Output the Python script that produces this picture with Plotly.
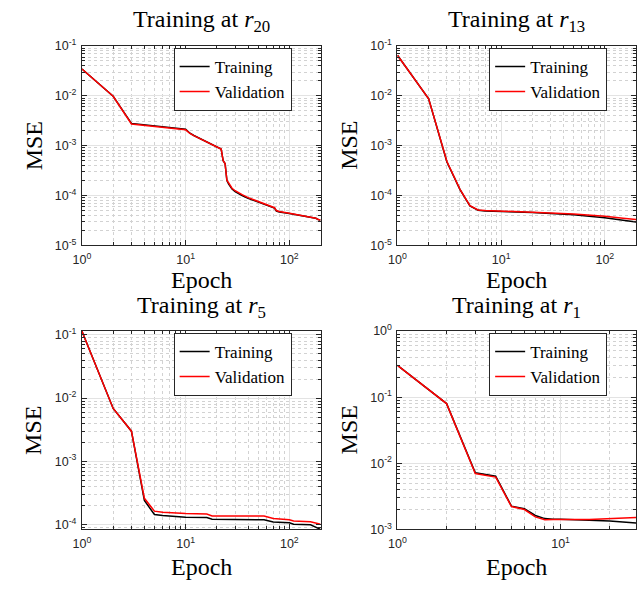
import numpy as np
import plotly.graph_objects as go

# ---------------- data ----------------
ep_r20 = [1, 2, 3, 10, 11, 12, 22, 23, 24, 25, 26, 28, 30, 32, 35, 40, 50, 60, 70, 72, 75, 80, 100, 130, 160, 180, 190, 200]
tr_r20 = [0.0346, 0.0098, 0.0028, 0.00214, 0.00178, 0.00160, 0.00086, 0.00050, 0.00044, 0.00020, 0.00017,
          0.000135, 0.000120, 0.000110, 0.000100, 0.000088, 0.000074, 0.000065, 0.000058, 0.000056, 0.000049,
          0.000047, 0.0000435, 0.0000395, 0.0000365, 0.0000350, 0.0000330, 0.0000320]
va_r20 = [0.0346, 0.0098, 0.00272, 0.00208, 0.00176, 0.00159, 0.00086, 0.00050, 0.00044, 0.00020, 0.00018,
          0.000140, 0.000125, 0.000114, 0.000104, 0.000091, 0.000076, 0.000066, 0.000059, 0.000057, 0.000050,
          0.000048, 0.0000440, 0.0000400, 0.0000368, 0.0000352, 0.0000332, 0.0000322]

ep_r13 = [1, 2, 3, 4, 5, 6, 7, 10, 20, 50, 100, 150, 200]
tr_r13 = [0.065, 0.0087, 0.00047, 0.000133, 0.000062, 0.0000505, 0.0000490, 0.0000480, 0.0000455,
          0.0000410, 0.0000360, 0.0000320, 0.0000295]
va_r13 = [0.065, 0.0087, 0.00048, 0.000135, 0.000063, 0.0000515, 0.0000500, 0.0000490, 0.0000465,
          0.0000425, 0.0000385, 0.0000350, 0.0000330]

ep_r5 = [1, 2, 3, 4, 5, 6, 10, 16, 18, 57, 70, 100, 110, 160, 200]
tr_r5 = [0.114, 0.00686, 0.0030, 0.00024, 0.000144, 0.000139, 0.000131, 0.000129, 0.000121, 0.000119,
         0.000110, 0.000107, 0.000101, 0.000099, 0.000084]
va_r5 = [0.114, 0.00686, 0.0030, 0.00026, 0.000163, 0.000156, 0.000149, 0.000147, 0.000137, 0.000136,
         0.000125, 0.000119, 0.000114, 0.000111, 0.000101]

ep_r1 = [1, 2, 3, 4, 5, 6, 7, 8, 9, 10, 15, 20, 29]
tr_r1 = [0.302, 0.080, 0.0072, 0.0064, 0.00225, 0.00206, 0.00163, 0.00146, 0.00143, 0.00143, 0.00138, 0.00134, 0.00125]
va_r1 = [0.302, 0.080, 0.0070, 0.0062, 0.00222, 0.00200, 0.00155, 0.00140, 0.00141, 0.00142, 0.00142, 0.00145, 0.00152]

titles = ["Training at <i>r</i><sub>20</sub>", "Training at <i>r</i><sub>13</sub>",
          "Training at <i>r</i><sub>5</sub>", "Training at <i>r</i><sub>1</sub>"]
series_names = ["Training", "Validation"]

panels = [
    (ep_r20, tr_r20, va_r20),
    (ep_r13, tr_r13, va_r13),
    (ep_r5, tr_r5, va_r5),
    (ep_r1, tr_r1, va_r1),
]

# y ranges in decades (log10), tick exponents
y_ranges = [(-5, -1), (-5, -1), (-4.078, -0.939), (-3, 0)]
y_ticks = [[-5, -4, -3, -2, -1], [-5, -4, -3, -2, -1], [-4, -3, -2, -1], [-3, -2, -1, 0]]
x_ticks = [[0, 1, 2], [0, 1, 2], [0, 1, 2], [0, 1]]

# ---------------- layout geometry (pixels) ----------------
W, H = 639, 590
boxes = [  # left, right, top, bottom
    (74, 316, 38, 243),
    (394, 636, 38, 243),
    (74, 316, 331, 535),
    (394, 636, 331, 535),
]
epoch_off = [36, 36, 39, 39]
title_off = [26, 26, 25, 25]

SERIF = "Liberation Serif, Times New Roman, serif"
SANS = "Liberation Sans, Arial, sans-serif"
AX = "#262626"
MAJ_GRID = "#e3e3e3"
MIN_GRID = "#d2d2d2"

def px_x(p):
    return p / W

def px_y(p):
    return 1 - p / H

def lab(e):
    return "10<sup>%d</sup>" % e

fig = go.Figure()
annotations = []
layout = {}

for i, (ep, tr, va) in enumerate(panels):
    n = i + 1
    xa = "xaxis" if n == 1 else "xaxis%d" % n
    ya = "yaxis" if n == 1 else "yaxis%d" % n
    xr = "x" if n == 1 else "x%d" % n
    yr = "y" if n == 1 else "y%d" % n
    lg = "legend" if n == 1 else "legend%d" % n
    L, R, T, B = boxes[i]

    fig.add_trace(go.Scatter(x=ep, y=tr, mode="lines", name=series_names[0],
                             line=dict(color="black", width=1.5), xaxis=xr, yaxis=yr, legend=lg))
    fig.add_trace(go.Scatter(x=ep, y=va, mode="lines", name=series_names[1],
                             line=dict(color="#ff0000", width=1.5), xaxis=xr, yaxis=yr, legend=lg))

    xmax = np.log10(max(ep))
    xminor = [m * 10 ** e for e in range(0, 3) for m in range(2, 10)]
    yminor = [m * 10.0 ** e for e in range(-6, 1) for m in range(2, 10)]

    common = dict(type="log", showline=True, linecolor=AX, linewidth=1, mirror="ticks",
                  ticks="inside", ticklen=5, tickcolor=AX, tickwidth=1,
                  showgrid=True, gridcolor=MAJ_GRID, gridwidth=1, zeroline=False,
                  tickfont=dict(family=SANS, size=12.5, color=AX),
                  tickmode="array")
    layout[xa] = dict(common, domain=[px_x(L), px_x(R)], anchor=yr,
                      range=[0, xmax], ticklabelstandoff=3,
                      tickvals=[10 ** e for e in x_ticks[i]], ticktext=[lab(e) for e in x_ticks[i]],
                      minor=dict(tickmode="array", tickvals=xminor, ticks="inside", ticklen=3,
                                 tickcolor=AX, showgrid=True, gridcolor=MIN_GRID, griddash="dot",
                                 gridwidth=1))
    layout[ya] = dict(common, domain=[px_y(B), px_y(T)], anchor=xr,
                      range=list(y_ranges[i]), ticklabelstandoff=2,
                      tickvals=[10.0 ** e for e in y_ticks[i]], ticktext=[lab(e) for e in y_ticks[i]],
                      minor=dict(tickmode="array", tickvals=yminor, ticks="inside", ticklen=3,
                                 tickcolor=AX, showgrid=True, gridcolor=MIN_GRID, griddash="dot",
                                 gridwidth=1))
    layout[lg] = dict(x=px_x(L + 93), y=px_y(T + 2), xanchor="left", yanchor="top",
                      xref="paper", yref="paper",
                      bgcolor="white", bordercolor=AX, borderwidth=1,
                      font=dict(family=SERIF, size=17, color="black"),
                      tracegroupgap=0, itemwidth=30)

    cx = (L + R) / 2
    annotations.append(dict(text=titles[i], x=px_x(cx), y=px_y(T - title_off[i]), xref="paper", yref="paper",
                            xanchor="center", yanchor="middle", showarrow=False,
                            font=dict(family=SERIF, size=24, color="black")))
    annotations.append(dict(text="Epoch", x=px_x(cx), y=px_y(B + epoch_off[i]), xref="paper", yref="paper",
                            xanchor="center", yanchor="middle", showarrow=False,
                            font=dict(family=SERIF, size=24, color="black")))
    annotations.append(dict(text="MSE", x=px_x(L - 49), y=px_y((T + B) / 2), xref="paper", yref="paper",
                            xanchor="center", yanchor="middle", showarrow=False, textangle=-90,
                            font=dict(family=SERIF, size=24, color="black")))

fig.update_layout(width=W, height=H, margin=dict(l=0, r=0, t=0, b=0),
                  paper_bgcolor="white", plot_bgcolor="white",
                  showlegend=True, annotations=annotations, **layout)

fig.write_html("out.html")
